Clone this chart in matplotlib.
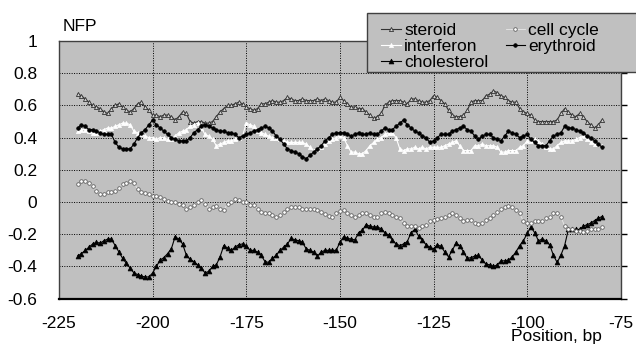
import numpy as np
import matplotlib
matplotlib.use("Agg")
import matplotlib.pyplot as plt
from matplotlib.patches import Rectangle

plt.rcParams['font.family'] = ['Liberation Sans', 'DejaVu Sans']

positions = list(range(-220, -79))

steroid = [
    0.67, 0.66, 0.64, 0.62, 0.60, 0.59, 0.58, 0.56, 0.55, 0.58,
    0.60, 0.61, 0.59, 0.57, 0.56, 0.58, 0.61, 0.62, 0.59, 0.57,
    0.54, 0.54, 0.53, 0.54, 0.54, 0.53, 0.51, 0.53, 0.56, 0.55,
    0.50, 0.49, 0.50, 0.50, 0.49, 0.49, 0.50, 0.53, 0.56, 0.58,
    0.60, 0.60, 0.61, 0.62, 0.61, 0.59, 0.58, 0.57, 0.58, 0.61,
    0.61, 0.62, 0.63, 0.62, 0.62, 0.63, 0.65, 0.64, 0.63, 0.63,
    0.64, 0.63, 0.63, 0.63, 0.64, 0.63, 0.64, 0.63, 0.62, 0.62,
    0.65, 0.63, 0.61, 0.59, 0.59, 0.58, 0.58, 0.56, 0.54, 0.52,
    0.53, 0.55, 0.60, 0.62, 0.63, 0.63, 0.63, 0.62, 0.61, 0.64,
    0.64, 0.63, 0.62, 0.62, 0.63, 0.66, 0.65, 0.63, 0.61, 0.57,
    0.54, 0.53, 0.53, 0.54, 0.57, 0.62, 0.63, 0.63, 0.63, 0.66,
    0.67, 0.69, 0.68, 0.66, 0.65, 0.63, 0.62, 0.62, 0.58, 0.56,
    0.55, 0.54, 0.51, 0.50, 0.50, 0.50, 0.50, 0.50, 0.51, 0.55,
    0.58, 0.56, 0.54, 0.53, 0.55, 0.53, 0.50, 0.48, 0.46, 0.48,
    0.51,
]

interferon = [
    0.44, 0.45, 0.45, 0.44, 0.43, 0.43, 0.44, 0.45, 0.46, 0.46,
    0.47, 0.48, 0.49, 0.49, 0.48, 0.44, 0.43, 0.42, 0.41, 0.40,
    0.40, 0.39, 0.40, 0.40, 0.39, 0.39, 0.41, 0.43, 0.44, 0.45,
    0.47, 0.48, 0.49, 0.46, 0.42, 0.41, 0.39, 0.35, 0.36, 0.37,
    0.38, 0.38, 0.39, 0.40, 0.41, 0.49, 0.48, 0.47, 0.44, 0.43,
    0.42, 0.41, 0.40, 0.40, 0.39, 0.38, 0.37, 0.37, 0.37, 0.37,
    0.37, 0.36, 0.34, 0.32, 0.33, 0.34, 0.36, 0.38, 0.39, 0.40,
    0.41, 0.40, 0.35, 0.31, 0.31, 0.30, 0.30, 0.32, 0.35, 0.37,
    0.39, 0.40, 0.42, 0.43, 0.43, 0.40, 0.33, 0.32, 0.33, 0.33,
    0.34, 0.33, 0.34, 0.33, 0.34, 0.34, 0.34, 0.34, 0.35, 0.36,
    0.37, 0.38, 0.35, 0.32, 0.32, 0.32, 0.35, 0.35, 0.36, 0.35,
    0.35, 0.35, 0.34, 0.31, 0.31, 0.32, 0.32, 0.32, 0.34, 0.35,
    0.38, 0.38, 0.39, 0.38, 0.36, 0.34, 0.33, 0.33, 0.35, 0.37,
    0.38, 0.38, 0.38, 0.39, 0.40, 0.41, 0.39, 0.37, 0.36, 0.36,
    0.35,
]

cholesterol = [
    -0.335, -0.32, -0.30, -0.28, -0.26, -0.25, -0.255, -0.24, -0.23, -0.23,
    -0.27, -0.31, -0.35, -0.38, -0.41, -0.44, -0.45, -0.46, -0.465, -0.465,
    -0.44, -0.40, -0.36, -0.345, -0.32, -0.29, -0.215, -0.23, -0.26, -0.33,
    -0.355, -0.37, -0.39, -0.41, -0.44, -0.43, -0.40, -0.39, -0.34, -0.27,
    -0.285, -0.30, -0.28, -0.265, -0.26, -0.27, -0.30, -0.30, -0.31, -0.33,
    -0.37, -0.375, -0.35, -0.33, -0.30, -0.28, -0.26, -0.225, -0.235, -0.24,
    -0.25, -0.29, -0.30, -0.31, -0.335, -0.31, -0.30, -0.30, -0.30, -0.30,
    -0.25, -0.215, -0.225, -0.23, -0.235, -0.19, -0.175, -0.14, -0.15, -0.155,
    -0.155, -0.165, -0.19, -0.205, -0.235, -0.26, -0.27, -0.26, -0.245, -0.19,
    -0.17, -0.21, -0.235, -0.265, -0.28, -0.29, -0.265, -0.275, -0.31, -0.34,
    -0.30, -0.255, -0.27, -0.31, -0.35, -0.345, -0.335, -0.33, -0.36, -0.385,
    -0.39, -0.40, -0.39, -0.365, -0.365, -0.36, -0.34, -0.31, -0.27, -0.24,
    -0.195, -0.155, -0.19, -0.24, -0.23, -0.24, -0.265, -0.33, -0.375, -0.33,
    -0.27, -0.17, -0.17, -0.17, -0.17, -0.15, -0.14, -0.13, -0.115, -0.10,
    -0.09,
]

cell_cycle = [
    0.11, 0.13, 0.13, 0.12, 0.10, 0.07, 0.05, 0.05, 0.06, 0.06,
    0.07, 0.09, 0.11, 0.12, 0.13, 0.12, 0.08, 0.06, 0.055, 0.05,
    0.04, 0.035, 0.03, 0.02, 0.005, 0.00, 0.00, -0.01, -0.02, -0.04,
    -0.03, -0.02, 0.00, 0.01, -0.01, -0.04, -0.03, -0.025, -0.04, -0.05,
    -0.01, 0.00, 0.02, 0.01, 0.00, 0.00, -0.02, -0.02, -0.04, -0.06,
    -0.07, -0.07, -0.08, -0.09, -0.08, -0.06, -0.04, -0.03, -0.03, -0.03,
    -0.04, -0.04, -0.04, -0.04, -0.05, -0.06, -0.075, -0.085, -0.09, -0.07,
    -0.055, -0.05, -0.07, -0.08, -0.09, -0.08, -0.065, -0.07, -0.08, -0.09,
    -0.09, -0.065, -0.06, -0.07, -0.08, -0.09, -0.10, -0.13, -0.15, -0.15,
    -0.15, -0.16, -0.15, -0.14, -0.12, -0.11, -0.105, -0.10, -0.09, -0.08,
    -0.07, -0.08, -0.10, -0.12, -0.11, -0.11, -0.13, -0.135, -0.13, -0.11,
    -0.10, -0.08, -0.06, -0.04, -0.03, -0.025, -0.03, -0.05, -0.07, -0.12,
    -0.13, -0.13, -0.12, -0.12, -0.115, -0.10, -0.09, -0.07, -0.07, -0.09,
    -0.15, -0.165, -0.17, -0.18, -0.18, -0.185, -0.18, -0.17, -0.17, -0.17,
    -0.155,
]

erythroid = [
    0.46, 0.48, 0.47, 0.45, 0.45, 0.44, 0.43, 0.42, 0.42, 0.42,
    0.37, 0.34, 0.33, 0.33, 0.33, 0.36, 0.40, 0.43, 0.45, 0.48,
    0.51, 0.48, 0.46, 0.44, 0.42, 0.40, 0.39, 0.38, 0.38, 0.38,
    0.40, 0.43, 0.45, 0.47, 0.48, 0.47, 0.46, 0.45, 0.44, 0.44,
    0.43, 0.43, 0.42, 0.40, 0.41, 0.42, 0.43, 0.44, 0.45, 0.46,
    0.47, 0.46, 0.44, 0.41, 0.39, 0.36, 0.33, 0.32, 0.31, 0.30,
    0.28, 0.27, 0.29, 0.31, 0.33, 0.35, 0.38, 0.40, 0.42, 0.43,
    0.43, 0.43, 0.42, 0.41, 0.42, 0.43, 0.42, 0.42, 0.43, 0.42,
    0.42, 0.44, 0.46, 0.45, 0.45, 0.47, 0.49, 0.51, 0.48, 0.46,
    0.44, 0.43, 0.41, 0.40, 0.37, 0.38, 0.40, 0.42, 0.42, 0.42,
    0.44, 0.45, 0.46, 0.47, 0.45, 0.44, 0.41, 0.39, 0.41, 0.42,
    0.42, 0.40, 0.39, 0.38, 0.41, 0.44, 0.43, 0.42, 0.40, 0.41,
    0.42, 0.39, 0.37, 0.35, 0.35, 0.35, 0.38, 0.41, 0.42, 0.43,
    0.47, 0.46, 0.46, 0.45, 0.44, 0.43, 0.41, 0.40, 0.38, 0.36,
    0.34,
]

x_ticks = [-225, -200, -175, -150, -125, -100, -75]
x_tick_labels = ["-225", "-200", "-175", "-150", "-125", "-100", "-75"]
y_ticks = [1.0, 0.8, 0.6, 0.4, 0.2, 0.0, -0.2, -0.4, -0.6]
y_tick_labels = ["1", "0.8", "0.6", "0.4", "0.2", "0", "-0.2", "-0.4", "-0.6"]

BG = "#c0c0c0"
FS = 12.5
W, H = 636.0, 344.0

fig = plt.figure(figsize=(6.36, 3.44), dpi=100)
ax = fig.add_axes([59/W, 1 - 298.7/H, (620.8 - 59)/W, (298.7 - 41)/H])
ax.set_facecolor(BG)

ax.plot(positions, steroid, color="#333333", lw=0.8, marker="^", ms=3.0,
        mfc="#d0d0d0", mec="#333333", mew=0.6, label="steroid", zorder=3)
ax.plot(positions, interferon, color="white", lw=0.8, marker="^", ms=3.0,
        mfc="white", mec="white", mew=0.5, label="interferon", zorder=3)
ax.plot(positions, cholesterol, color="black", lw=0.8, marker="^", ms=3.5,
        mfc="black", mec="black", mew=0.5, label="cholesterol", zorder=3)
ax.plot(positions, cell_cycle, color="#e8e8e8", lw=0.6, marker="o", ms=2.6,
        mfc="white", mec="#606060", mew=0.6, label="cell cycle", zorder=3)
ax.plot(positions, erythroid, color="black", lw=0.8, marker="o", ms=2.6,
        mfc="black", mec="black", mew=0.5, label="erythroid", zorder=3)

ax.set_xlim(-225, -75)
ax.set_ylim(-0.6, 1.0)
ax.set_xticks(x_ticks)
ax.set_xticklabels(x_tick_labels, fontsize=FS)
ax.set_yticks(y_ticks)
ax.set_yticklabels(y_tick_labels, fontsize=FS)
ax.grid(True, color="black", linestyle=(0, (1, 1.5)), linewidth=0.7)
ax.set_axisbelow(True)
ax.tick_params(axis="x", length=0, pad=12.5)
ax.tick_params(axis="y", left=False, right=True, labelleft=True,
               direction="out", length=4, width=1, pad=11.5, colors="black")

for side in ["top", "right", "left"]:
    ax.spines[side].set_color("#404040")
    ax.spines[side].set_linewidth(1.0)
ax.spines["bottom"].set_color("black")
ax.spines["bottom"].set_linewidth(1.6)

fig.text(63/W, 1 - 30.7/H, "NFP", fontsize=FS, va="baseline", ha="left")
fig.text(511/W, 1 - 341.5/H, "Position, bp", fontsize=FS, va="baseline", ha="left")

# legend box (extends past the right edge, as in the reference)
box = Rectangle((367/W, 1 - 72/H), 280/W, 59/H, transform=fig.transFigure,
                facecolor=BG, edgecolor="#404040", linewidth=1.0, zorder=5)
fig.add_artist(box)

leg = fig.legend(loc="upper left",
                 bbox_to_anchor=(378/W, 1 - 19/H),
                 ncol=2, fontsize=FS, frameon=False,
                 handlelength=1.1, handletextpad=0.2, columnspacing=1.0,
                 labelspacing=0.05, borderpad=0.2, borderaxespad=0)
leg.set_zorder(6)

fig.savefig("out.png", dpi=100)
